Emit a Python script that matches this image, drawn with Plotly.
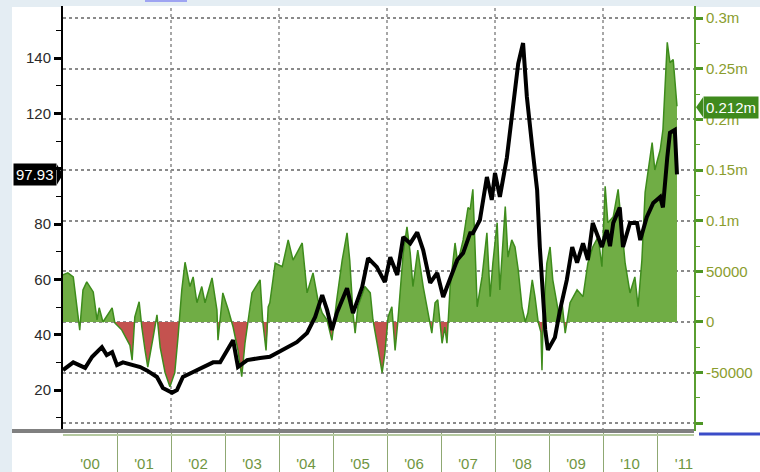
import plotly.graph_objects as go

# ---- data ----
price_years = [2000.00, 2000.19, 2000.41, 2000.54, 2000.72, 2000.81, 2000.91, 2001.00, 2001.11, 2001.28,
               2001.43, 2001.56, 2001.74, 2001.85, 2002.02, 2002.11, 2002.22, 2002.41, 2002.59, 2002.78,
               2002.91, 2003.04, 2003.15, 2003.24, 2003.41, 2003.65, 2003.83, 2003.96, 2004.07, 2004.33,
               2004.52, 2004.67, 2004.80, 2004.89, 2004.98, 2005.07, 2005.26, 2005.37, 2005.54, 2005.65,
               2005.81, 2005.96, 2006.06, 2006.19, 2006.30, 2006.43, 2006.56, 2006.67, 2006.80, 2006.93,
               2007.04, 2007.17, 2007.30, 2007.41, 2007.54, 2007.59, 2007.72, 2007.85, 2007.94, 2008.00,
               2008.09, 2008.22, 2008.31, 2008.43, 2008.52, 2008.59, 2008.69, 2008.78, 2008.83, 2008.93,
               2008.98, 2009.11, 2009.20, 2009.33, 2009.43, 2009.52, 2009.63, 2009.72, 2009.81, 2009.98,
               2010.07, 2010.13, 2010.19, 2010.31, 2010.37, 2010.50, 2010.63, 2010.69, 2010.81, 2010.93,
               2011.06, 2011.11, 2011.19, 2011.24, 2011.33, 2011.37]
price_values = [27.2, 30.0, 28.0, 32.0, 35.5, 32.6, 33.7, 29.0, 30.0, 29.0,
                28.3, 27.0, 24.7, 20.7, 19.0, 20.0, 24.7, 26.5, 28.3, 30.0,
                30.0, 34.4, 38.0, 28.3, 30.8, 31.6, 32.0, 33.4, 34.5, 37.3,
                40.6, 46.4, 54.3, 49.0, 41.7, 47.8, 56.8, 47.8, 57.2, 67.7,
                64.5, 59.0, 68.0, 61.6, 75.3, 73.0, 77.0, 70.6, 58.7, 62.3,
                53.6, 60.8, 67.0, 69.5, 76.7, 76.7, 81.4, 97.0, 88.7, 98.4,
                89.8, 104.0, 117.6, 138.0, 145.4, 126.0, 107.8, 92.3, 71.7, 41.7,
                34.5, 39.0, 48.5, 59.8, 71.7, 66.0, 73.0, 67.0, 80.4, 71.7,
                77.8, 72.0, 80.4, 86.0, 71.7, 80.4, 80.4, 74.2, 82.5, 87.6,
                89.8, 86.0, 104.0, 113.0, 114.0, 97.93]

pos_years = [2000.00, 2000.09, 2000.19, 2000.28, 2000.31, 2000.37, 2000.44, 2000.56, 2000.63, 2000.67,
             2000.74, 2000.91, 2000.96, 2001.09, 2001.24, 2001.28, 2001.33, 2001.41, 2001.46, 2001.52,
             2001.57, 2001.67, 2001.74, 2001.80, 2001.89, 2001.98, 2002.07, 2002.13, 2002.20, 2002.26,
             2002.35, 2002.41, 2002.48, 2002.57, 2002.63, 2002.76, 2002.85, 2002.87, 2002.96, 2003.06,
             2003.15, 2003.24, 2003.31, 2003.37, 2003.43, 2003.50, 2003.65, 2003.70, 2003.76, 2003.80,
             2003.83, 2003.93, 2004.06, 2004.17, 2004.26, 2004.33, 2004.43, 2004.52, 2004.57, 2004.63,
             2004.72, 2004.80, 2004.89, 2004.98, 2005.07, 2005.17, 2005.26, 2005.31, 2005.37, 2005.41,
             2005.46, 2005.59, 2005.69, 2005.74, 2005.83, 2005.91, 2005.96, 2006.02, 2006.09, 2006.15,
             2006.20, 2006.30, 2006.37, 2006.43, 2006.48, 2006.57, 2006.67, 2006.76, 2006.83, 2006.89,
             2006.94, 2007.02, 2007.07, 2007.11, 2007.17, 2007.26, 2007.31, 2007.41, 2007.50, 2007.54,
             2007.59, 2007.63, 2007.67, 2007.76, 2007.85, 2007.91, 2007.96, 2008.04, 2008.09, 2008.19,
             2008.24, 2008.31, 2008.37, 2008.43, 2008.50, 2008.56, 2008.61, 2008.69, 2008.74, 2008.80,
             2008.85, 2008.87, 2008.89, 2008.96, 2009.02, 2009.07, 2009.15, 2009.20, 2009.24, 2009.30,
             2009.39, 2009.52, 2009.63, 2009.72, 2009.81, 2009.91, 2009.98, 2010.04, 2010.09, 2010.19,
             2010.28, 2010.35, 2010.41, 2010.50, 2010.59, 2010.65, 2010.72, 2010.78, 2010.83, 2010.91,
             2010.96, 2011.06, 2011.11, 2011.19, 2011.24, 2011.30, 2011.37]
pos_values = [46500, 48500, 44500, 9000, -8000, 31700, 39600, 29700, 2000, 14000,
              0, 14000, -1000, -8000, -23000, -37600, 5000, 20000, -5000, -28000,
              -44600, -15000, 7000, -25000, -50000, -64000, -50000, -15000, 31700, 59000,
              35000, 44500, 19000, 35000, 19000, 43500, 12000, -18000, 28700, 12000,
              -5000, -28000, -54000, -21000, 0, 28700, 41600, 0, -28000, 15000,
              19000, 58000, 54500, 81000, 61000, 68000, 78000, 28700, 38600, 48500,
              22000, 9000, 2000, -18000, 22000, 61000, 88000, 61000, 9000, -11000,
              15000, 35000, 28700, 2000, -25000, -50000, -31000, 5000, 15000, -28000,
              0, 68000, 94000, 68000, 35000, 71000, 35000, 9000, -11000, 19000,
              22000, -21000, -5000, -21000, 35000, 78000, 58000, 81000, 113000, 111000,
              131000, 74000, 15000, 44500, 88000, 25000, 58000, 98000, 31700, 114000,
              64000, 81000, 74000, 51500, 15000, 0, 9000, 41600, 25000, 0,
              -10000, -47500, 0, 58000, 74000, 41600, 15000, 2000, 20000, -11000,
              19000, 31700, 25000, 58000, 74000, 84000, 54500, 134000, 98000, 104000,
              131000, 94000, 58000, 28700, 44500, 15000, 61000, 128000, 148000, 177000,
              150000, 170000, 190000, 276000, 256000, 259000, 213000]

year_starts = list(range(2000, 2012))
year_labels = ["'00", "'01", "'02", "'03", "'04", "'05", "'06", "'07", "'08", "'09", "'10", "'11"]
grid_years = [2002, 2004, 2006, 2008, 2010]
right_tick_values = [-100000, -50000, 0, 50000, 100000, 150000, 200000, 250000, 300000]
right_tick_labels = ["", "-50000", "0", "50000", "0.1m", "0.15m", "0.2m", "0.25m", "0.3m"]
left_tick_values = [20, 40, 60, 80, 100, 120, 140]
left_tick_labels = ["20", "40", "60", "80", "", "120", "140"]
last_price = 97.93
last_pos = 212000
last_pos_label = "0.212m"

# ---- styles ----
FONT = "Liberation Sans, Arial, sans-serif"
GREEN_FILL = "#70ad45"
GREEN_LINE = "#3e8c1c"
RED_FILL = "#c4524f"
GRID = "#8a8a8a"
RIGHT_TXT = "#8a9d2e"
X_TXT = "#6f9642"


def split_sign(xs, ys):
    px, py, nx, ny = [], [], [], []
    for i in range(len(xs)):
        if i > 0 and ys[i - 1] * ys[i] < 0:
            t = ys[i - 1] / (ys[i - 1] - ys[i])
            xc = xs[i - 1] + t * (xs[i] - xs[i - 1])
            px.append(xc); py.append(0); nx.append(xc); ny.append(0)
        px.append(xs[i]); py.append(max(ys[i], 0))
        nx.append(xs[i]); ny.append(min(ys[i], 0))
    return px, py, nx, ny


px_, py_, nx_, ny_ = split_sign(pos_years, pos_values)

fig = go.Figure()
fig.add_trace(go.Scatter(x=px_, y=py_, mode="lines", fill="tozeroy", fillcolor=GREEN_FILL,
                         line=dict(width=0, color=GREEN_FILL), yaxis="y", hoverinfo="skip"))
fig.add_trace(go.Scatter(x=nx_, y=ny_, mode="lines", fill="tozeroy", fillcolor=RED_FILL,
                         line=dict(width=0, color=RED_FILL), yaxis="y", hoverinfo="skip"))
fig.add_trace(go.Scatter(x=pos_years, y=pos_values, mode="lines",
                         line=dict(width=1.5, color=GREEN_LINE), yaxis="y"))
fig.add_trace(go.Scatter(x=price_years, y=price_values, mode="lines",
                         line=dict(width=4, color="black"), yaxis="y2"))

PW = 631.0
PH = 425.0


def px2paper_x(p):
    return (p - 63) / PW


def px2paper_y(p):
    return (431 - p) / PH


shapes = []
# white panel
shapes.append(dict(type="rect", xref="paper", yref="paper", x0=px2paper_x(12), x1=px2paper_x(761),
                   y0=px2paper_y(473), y1=px2paper_y(7), fillcolor="white", line=dict(width=0),
                   layer="below"))
# vertical grid lines every two years
for yr in grid_years:
    shapes.append(dict(type="line", xref="x", yref="paper", x0=yr, x1=yr, y0=0, y1=1,
                       line=dict(color=GRID, width=1.5, dash="dot"), layer="below"))
# bottom gray bar
shapes.append(dict(type="line", xref="paper", yref="paper", x0=px2paper_x(12), x1=1,
                   y0=px2paper_y(431), y1=px2paper_y(431), line=dict(color="#808080", width=4)))
shapes.append(dict(type="line", xref="paper", yref="paper", x0=0, x1=1,
                   y0=px2paper_y(435), y1=px2paper_y(435), line=dict(color="#b5c9a0", width=2)))
# small blue bits
shapes.append(dict(type="line", xref="paper", yref="paper", x0=px2paper_x(699), x1=px2paper_x(760),
                   y0=px2paper_y(434), y1=px2paper_y(434), line=dict(color="#3b4cc8", width=3)))
shapes.append(dict(type="rect", xref="paper", yref="paper", x0=px2paper_x(145), x1=px2paper_x(187),
                   y0=px2paper_y(2), y1=px2paper_y(-1), fillcolor="#9ea4f2", line=dict(width=0)))
# pointer triangles for value boxes
hy = 10 / 2.767
shapes.append(dict(type="path", xref="paper", yref="y2",
                   path=f"M {px2paper_x(57)},{last_price + hy} L {px2paper_x(63)},{last_price} "
                        f"L {px2paper_x(57)},{last_price - hy} Z",
                   fillcolor="black", line=dict(width=0)))
hv = 10 * 987
shapes.append(dict(type="path", xref="paper", yref="y",
                   path=f"M {px2paper_x(703)},{last_pos + hv} L {px2paper_x(696)},{last_pos} "
                        f"L {px2paper_x(703)},{last_pos - hv} Z",
                   fillcolor="#3f8a1d", line=dict(width=0)))

annotations = [
    dict(text=f"{last_price:.2f}", xref="paper", yref="y2", x=px2paper_x(57), y=last_price,
         xanchor="right", yanchor="middle", showarrow=False, bgcolor="black",
         font=dict(family=FONT, size=15, color="white"), borderpad=2),
    dict(text=last_pos_label, xref="paper", yref="y", x=px2paper_x(703), y=last_pos,
         xanchor="left", yanchor="middle", showarrow=False, bgcolor="#3f8a1d",
         font=dict(family=FONT, size=15, color="white"), borderpad=2),
]

fig.update_layout(
    width=760, height=472, autosize=False,
    margin=dict(l=63, r=66, t=6, b=41, pad=0),
    paper_bgcolor="#e4edf3", plot_bgcolor="white",
    showlegend=False,
    font=dict(family=FONT, size=15),
    shapes=shapes, annotations=annotations,
    xaxis=dict(range=[2000, 2000 + PW / 54.0], tickmode="array", automargin=False,
               tickvals=[y + 0.5 for y in year_starts], ticktext=year_labels,
               ticks="", ticklabelstandoff=22, showgrid=False, zeroline=False, showline=False,
               tickfont=dict(family=FONT, size=15, color=X_TXT),
               minor=dict(tickmode="array", tickvals=year_starts[1:], ticks="outside", ticklen=41,
                          tickwidth=1, tickcolor="#8fa873", showgrid=False)),
    yaxis=dict(side="right", range=[-107600, 311900], tickmode="array", automargin=False,
               tickvals=right_tick_values, ticktext=right_tick_labels,
               ticks="outside", ticklen=7, tickwidth=3, tickcolor="#4e9626",
               showline=True, linecolor="#5a9e30", linewidth=2,
               showgrid=True, gridcolor=GRID, gridwidth=1.5, griddash="dot", zeroline=False,
               tickfont=dict(family=FONT, size=15, color=RIGHT_TXT),
               minor=dict(tickmode="array", tickvals=[v + 25000 for v in right_tick_values[:-1]],
                          ticks="outside", ticklen=4, tickwidth=1, tickcolor="#5a9e30",
                          showgrid=False)),
    yaxis2=dict(side="left", overlaying="y", range=[5.18, 158.8], tickmode="array", automargin=False,
                tickvals=left_tick_values, ticktext=left_tick_labels,
                ticks="outside", ticklen=7, tickwidth=3, tickcolor="black",
                showline=True, linecolor="black", linewidth=2,
                showgrid=False, zeroline=False,
                tickfont=dict(family=FONT, size=15, color="#2b2b2b"),
                minor=dict(tickmode="array", tickvals=[v + 10 for v in [0] + left_tick_values],
                           ticks="outside", ticklen=5, tickwidth=1, tickcolor="black",
                           showgrid=False)),
)

fig.write_html("out.html", config={"displayModeBar": False},
               post_script="document.body.style.margin='0';document.body.style.overflow='hidden';")
